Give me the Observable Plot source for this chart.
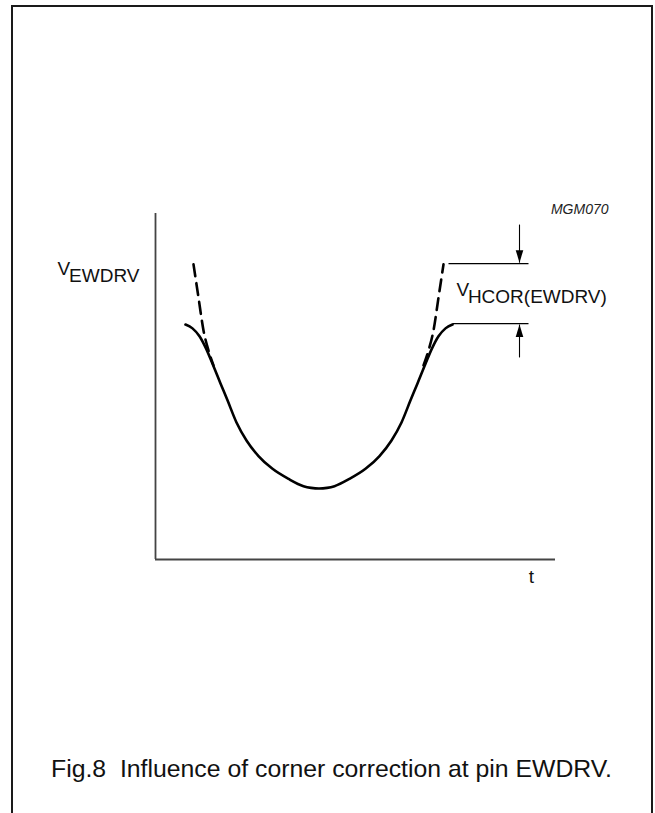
<!DOCTYPE html>
<html>
<head>
<meta charset="utf-8">
<script src="https://cdn.jsdelivr.net/npm/d3@7"></script>
<script src="https://cdn.jsdelivr.net/npm/@observablehq/plot@0.6"></script>
<style>
  html, body { margin: 0; padding: 0; background: #fff; }
  #wrap { position: relative; width: 655px; height: 813px; overflow: hidden; font-family: "Liberation Sans", Arial, Helvetica, sans-serif; }
  #border { position: absolute; left: 10.5px; top: 4.5px; width: 638px; height: 830px;
            border-left: 2px solid #1a1a1a; border-top: 2px solid #1a1a1a; border-right: 2px solid #1a1a1a; }
  #chart { position: absolute; left: 0; top: 0; }
  #caption { position: absolute; left: 51px; top: 757px; font-size: 24.8px; line-height: 24.8px;
             white-space: pre; color: #111; }
</style>
</head>
<body>
<div id="wrap">
  <div id="border"></div>
  <div id="chart"></div>
  <div id="caption"></div>
</div>
<script>
// Solid curve (driving voltage with corner correction) (t, V units)
const solidT = [7.5, 9.25, 11, 12.5, 14.25, 16.25, 18, 20.25, 22.75, 25.75, 29.25, 33.25, 37, 38.9, 40.875,
                42.9, 44.75, 48.5, 52.5, 56, 59, 61.5, 63.75, 65.5, 67.5, 69.25, 70.75, 72.5, 74.25];
const solidV = [67.9, 66.8, 64.5, 61.3, 56.6, 50.9, 46.0, 39.6, 34.4, 29.9, 26.2, 23.3, 21.2, 20.7, 20.5,
                20.7, 21.2, 23.3, 26.2, 29.9, 34.4, 39.6, 46.0, 50.9, 56.6, 61.3, 64.5, 66.8, 67.9];
// Dashed curves (without correction)
const dashLeftT = [9.5, 10.75, 12, 13.25, 14.5];
const dashLeftV = [85.3, 75.7, 66.2, 60.4, 56.1];
const dashRightT = [67, 68.25, 69.5, 70.75, 72];
const dashRightV = [56.1, 60.4, 66.2, 75.7, 85.3];
// Reference level lines
const refLevelV = [85.5, 68.2];
const refStartT = [73.25, 74.25];
const refEndT = [93.25, 93.25];
// Arrows (dimension markers)
const arrowT = [91, 91];
const arrowFromV = [96.8, 58.4];
const arrowTipV = [85.8, 67.9];
const arrowRotate = [0, 180];
// Labels
const labelMain = ["V", "HCOR(EWDRV)", "V", "EWDRV"];
const labelT = [75.25, 78.1, -24.5, -21.6];
const labelV = [76.3, 74.0, 82.1, 80.1];
const figId = "MGM070";
const axisTLabel = "t";
const captionText = "Fig.8  Influence of corner correction at pin EWDRV.";

const solid = solidT.map((t, i) => ({t, v: solidV[i]}));
const dashL = dashLeftT.map((t, i) => ({t, v: dashLeftV[i]}));
const dashR = dashRightT.map((t, i) => ({t, v: dashRightV[i]}));
const refs = refLevelV.map((v, i) => ({v, t1: refStartT[i], t2: refEndT[i]}));
const arrows = arrowT.map((t, i) => ({t, v1: arrowFromV[i], v2: arrowTipV[i], r: arrowRotate[i]}));
const labels = labelMain.map((s, i) => ({s, t: labelT[i], v: labelV[i]}));

const arrowHead = {
  draw(context) {
    context.moveTo(0, 0);
    context.lineTo(-3.8, -12.5);
    context.lineTo(3.8, -12.5);
    context.closePath();
  }
};

const plot = Plot.plot({
  width: 655,
  height: 813,
  marginLeft: 155,
  marginRight: 100,
  marginTop: 213,
  marginBottom: 254,
  x: {domain: [0, 100], axis: null},
  y: {domain: [0, 100], axis: null},
  style: {fontFamily: '"Liberation Sans", Arial, Helvetica, sans-serif', background: "transparent", overflow: "visible"},
  marks: [
    Plot.ruleX([0], {y1: 0, y2: 100, stroke: "#444", strokeWidth: 1.8}),
    Plot.ruleY([0], {x1: 0, x2: 100, stroke: "#444", strokeWidth: 1.8}),
    Plot.line(solid, {x: "t", y: "v", curve: "monotone-x", stroke: "#000", strokeWidth: 2.6}),
    Plot.line(dashL, {x: "t", y: "v", curve: "monotone-x", stroke: "#000", strokeWidth: 2.6, strokeDasharray: "12,7"}),
    Plot.line(dashR, {x: "t", y: "v", curve: "monotone-x", stroke: "#000", strokeWidth: 2.6, strokeDasharray: "12,7"}),
    Plot.link(refs, {x1: "t1", x2: "t2", y1: "v", y2: "v", stroke: "#000", strokeWidth: 1.2}),
    Plot.link(arrows, {x1: "t", x2: "t", y1: "v1", y2: "v2", stroke: "#000", strokeWidth: 1.1}),
    Plot.dot(arrows, {x: "t", y: "v2", symbol: arrowHead, rotate: "r", r: 5, fill: "#000", stroke: "none"}),
    Plot.text(labels, {x: "t", y: "v", text: "s", textAnchor: "start", lineAnchor: "bottom", fontSize: 19, fill: "#111"}),
    Plot.text([figId], {x: 113.25, y: 100, text: d => d, textAnchor: "end", lineAnchor: "bottom", fontSize: 14, fontStyle: "italic", fill: "#222"}),
    Plot.text([axisTLabel], {x: 94, y: -6.9, text: d => d, textAnchor: "middle", lineAnchor: "bottom", fontSize: 19, fill: "#111"})
  ]
});
document.getElementById("chart").appendChild(plot);
document.getElementById("caption").textContent = captionText;
</script>
</body>
</html>
